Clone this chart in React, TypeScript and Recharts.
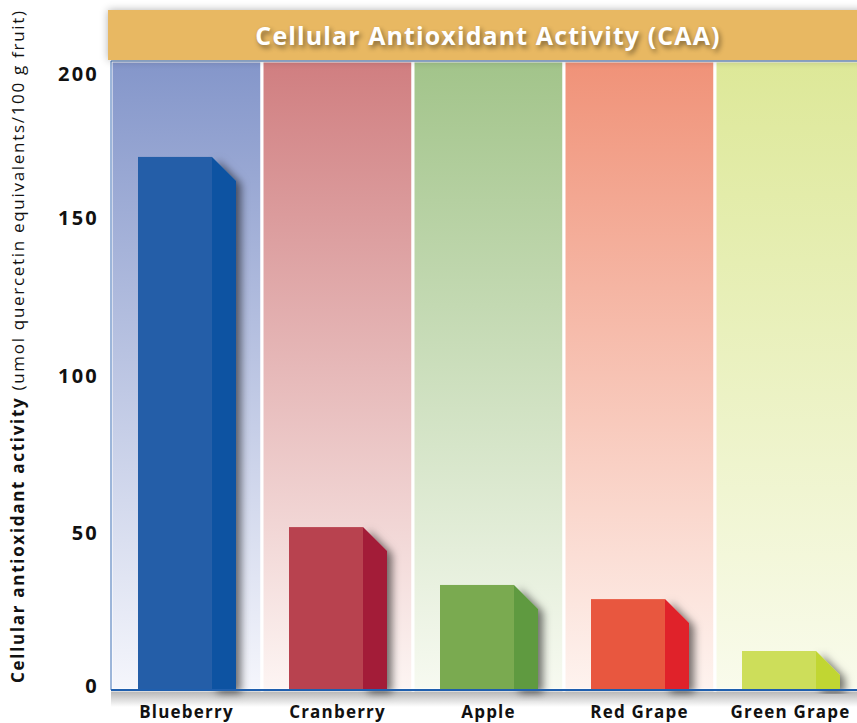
import * as React from "react";
import { BarChart, Bar, XAxis, YAxis, ReferenceArea, ReferenceLine } from "recharts";

const fruits = ["Blueberry", "Cranberry", "Apple", "Red Grape", "Green Grape"];
const caa = [169.5, 51.8, 33.4, 28.9, 12.4];
const yTicks = [0, 50, 100, 150, 200];

const frontColors = ["#245EA8", "#B8424F", "#7AAA50", "#E8573F", "#CDDE5A"];
const sideColors = ["#0852A2", "#A31C39", "#5E9A40", "#E0222A", "#C1D632"];
const bandTop = ["#8496CA", "#D07E80", "#A2C48A", "#F09278", "#DDE898"];
const bandBottom = ["#F5F6FC", "#FDF5F3", "#F7FAF1", "#FEF3EF", "#F9FBEC"];

const data = fruits.map((name, i) => ({ name, caa: caa[i] }));

const FONT = "'Open Sans', 'Noto Sans', sans-serif";

function BarShape(props: any) {
  const { x, y, width, height, index } = props;
  const front = width * 0.755;
  const side = width - front;
  const bottom = y + height;
  return (
    <g>
      <path
        d={`M${x + front},${y} L${x + width},${y + side} L${x + width},${bottom} L${x + front},${bottom} Z`}
        fill={sideColors[index]}
        filter="url(#barShadow)"
      />
      <rect x={x} y={y} width={front} height={height} fill={frontColors[index]} />
    </g>
  );
}

function YTick(props: any) {
  const { x, y, payload } = props;
  let dy = 7;
  if (payload.value === 200) dy = 20;
  if (payload.value === 0) dy = 3;
  return (
    <text
      x={x}
      y={y + dy}
      textAnchor="end"
      fontFamily={FONT}
      fontWeight={700}
      fontSize={20}
      letterSpacing={2.2}
      fill="#111"
    >
      {payload.value}
    </text>
  );
}

function XTick(props: any) {
  const { x, payload } = props;
  return (
    <text
      x={x}
      y={718}
      textAnchor="middle"
      fontFamily={FONT}
      fontWeight={700}
      fontSize={17}
      letterSpacing={1.2}
      fill="#111"
    >
      {payload.value}
    </text>
  );
}

function YLabel() {
  return (
    <text
      transform="translate(24,683) rotate(-90)"
      fontFamily={FONT}
      fontSize={17}
      letterSpacing={1.7}
      fill="#111"
    >
      <tspan fontWeight={700}>Cellular antioxidant activity</tspan>
      <tspan> (umol quercetin equivalents/100 g fruit)</tspan>
    </text>
  );
}

export default function App() {
  return (
    <div style={{ position: "absolute", left: 0, top: 0, width: 857, height: 723, overflow: "hidden", background: "#fff" }}>
      <div
        style={{
          position: "absolute",
          left: 111,
          top: 691,
          width: 760,
          height: 16,
          background: "linear-gradient(#b4b4b4, rgba(255,255,255,0))",
        }}
      />
      <div style={{ position: "absolute", left: 0, top: 0 }}>
        <BarChart width={866} height={723} data={data} margin={{ top: 61, right: 0, bottom: 0, left: 0 }}>
          <defs>
            {bandTop.map((c, i) => (
              <linearGradient key={i} id={`bg-${i}`} x1="0" y1="0" x2="0" y2="1">
                <stop offset="0%" stopColor={c} />
                <stop offset="100%" stopColor={bandBottom[i]} />
              </linearGradient>
            ))}
            <filter id="barShadow" x="-50%" y="-10%" width="250%" height="120%">
              <feDropShadow dx="5" dy="3" stdDeviation="4" floodColor="#000" floodOpacity="0.55" />
            </filter>
          </defs>
          {fruits.map((f, i) => (
            <ReferenceArea
              key={f}
              x1={f}
              x2={f}
              y1={0}
              y2={200}
              fill={`url(#bg-${i})`}
              fillOpacity={1}
              stroke="#ffffff"
              strokeWidth={3}
              ifOverflow="visible"
            />
          ))}
          <XAxis
            dataKey="name"
            height={33}
            axisLine={{ stroke: "#1F5FAE", strokeWidth: 2 }}
            tickLine={false}
            tick={<XTick />}
            interval={0}
          />
          <YAxis
            domain={[0, 200]}
            ticks={yTicks}
            width={111}
            axisLine={{ stroke: "#3A6CB4", strokeWidth: 1 }}
            tickLine={false}
            tickSize={0}
            tickMargin={12}
            tick={<YTick />}
            label={{ content: () => <YLabel /> }}
          />
          <ReferenceLine y={200} stroke="#3A6CB4" strokeWidth={1} />
          <Bar dataKey="caa" barSize={98} shape={<BarShape />} isAnimationActive={false} />
        </BarChart>
      </div>
      <div
        style={{
          position: "absolute",
          left: 108,
          top: 10,
          width: 760,
          height: 50,
          background: "#E8B862",
          boxShadow: "0 0 8px rgba(0,0,0,0.3)",
          color: "#fff",
          fontFamily: FONT,
          fontWeight: 700,
          fontSize: 25,
          letterSpacing: 1.1,
          lineHeight: "50px",
          textAlign: "center",
          textShadow: "2px 3px 5px rgba(0,0,0,0.45)",
          whiteSpace: "nowrap",
        }}
      >
        Cellular Antioxidant Activity (CAA)
      </div>
    </div>
  );
}
